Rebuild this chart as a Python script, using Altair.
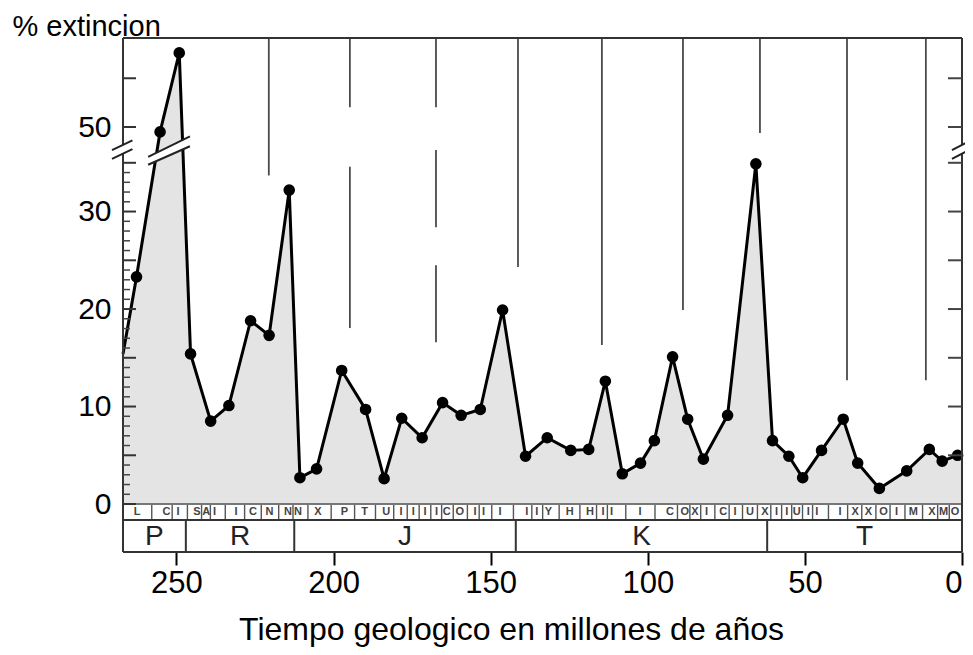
import altair as alt
import pandas as pd

# ---- data ----
ages = [267, 262.7, 255.2, 249.1, 245.5, 239.1, 233.3, 226.4, 220.5, 214.1, 210.7, 205.4,
        197.4, 189.8, 183.9, 178.3, 171.8, 165.3, 159.4, 153.3, 146.2, 138.9, 132.0, 124.5,
        118.8, 113.5, 108.1, 102.3, 97.9, 92.1, 87.3, 82.3, 74.6, 65.6, 60.3, 55.1, 50.7,
        44.7, 37.8, 33.2, 26.3, 17.6, 10.4, 6.3, 1.4, 0]
ext = [15.4, 23.3, 49.5, 57.6, 15.4, 8.5, 10.1, 18.8, 17.3, 32.2, 2.7, 3.6,
       13.7, 9.7, 2.6, 8.8, 6.8, 10.4, 9.1, 9.7, 19.9, 4.9, 6.8, 5.5,
       5.6, 12.6, 3.1, 4.2, 6.5, 15.1, 8.7, 4.6, 9.1, 34.9, 6.5, 4.9, 2.7,
       5.5, 8.7, 4.2, 1.6, 3.4, 5.6, 4.4, 5.0, 5.1]
has_dot = [0] + [1] * 44 + [0]

periods = ["P", "R", "J", "K", "T"]
period_bounds = [267, 247, 212.5, 142, 62, 0]

stage_pos = [262.5, 253.2, 249.5, 243.5, 240.5, 237.9, 231.0, 225.6, 220.4, 214.5, 211.3, 205.0,
             196.5, 190.1, 183.2, 178.5, 174.6, 170.9, 167.2, 164.0, 159.8, 155.0, 152.3, 147.0,
             138.5, 135.3, 131.6, 124.8, 118.4, 114.2, 111.5, 102.5, 92.9, 88.2, 85.0, 81.3,
             76.0, 72.2, 67.5, 62.7, 59.0, 55.8, 52.6, 48.9, 46.2, 38.8, 34.0, 29.8, 25.0,
             20.8, 15.5, 9.6, 5.9, 2.2]
stage_lab = ["L", "C", "I", "S", "A", "I", "I", "C", "N", "N", "N", "X",
             "P", "T", "U", "I", "I", "I", "I", "C", "O", "I", "I", "I",
             "I", "I", "Y", "H", "H", "I", "I", "I", "C", "O", "X", "I",
             "C", "I", "U", "X", "I", "I", "U", "I", "I", "I", "X", "X", "O",
             "I", "M", "X", "M", "O"]

# periodic vertical lines hanging from the top (age, top, bottom) in plotted units
hang_age = [220.6, 194.8, 194.8, 167.4, 167.4, 167.4, 141.3, 114.6, 88.8, 64.3, 36.6, 11.5]
hang_top = [47.8, 47.8, 34.6, 47.8, 36.3, 24.5, 47.8, 47.8, 47.8, 47.8, 47.8, 47.8]
hang_bot = [33.7, 40.7, 18.05, 40.7, 28.4, 16.6, 24.3, 16.3, 19.9, 38.05, 12.7, 12.7]

OFFSET = 11.33          # broken axis: values above the break are shifted down
YTOP, YBOT = 47.8, -4.92
STAGE_BOT = -1.64
XMAX, XMIN = 267, 0


def tr(v):
    return v - OFFSET if v > 36 else v


W, H = 839, 514
FONT = "Liberation Sans"

xs = alt.Scale(domain=[XMAX, XMIN], nice=False, zero=False)
ys = alt.Scale(domain=[YBOT, YTOP], nice=False, zero=False)

x_axis = alt.Axis(values=[250, 200, 150, 100, 50, 0], domain=False, tickSize=13,
                  tickColor="black", tickWidth=2, labelFontSize=31, labelPadding=3,
                  labelColor="black", grid=False,
                  labelAlign=alt.ConditionalAxisLabelAlign(
                      condition={"test": "datum.value == 0", "value": "right"}, value="center"),
                  title="Tiempo geologico en millones de años", titleFontSize=32,
                  titleFontWeight="normal", titleColor="black", titleX=388, titleY=87,
                  titleBaseline="alphabetic")
y_axis = alt.Axis(values=[0, 10, 20, 30, 50 - OFFSET], domain=False, ticks=False, grid=False,
                  labelExpr="datum.value > 36 ? '50' : datum.label",
                  labelFontSize=30, labelPadding=12, labelColor="black",
                  title="% extincion", titleAngle=0, titleAlign="left",
                  titleBaseline="alphabetic", titleX=-111, titleY=-3, titleFontSize=29,
                  titleFontWeight="normal", titleColor="black")


def X(f):
    return alt.X(f, scale=xs, axis=x_axis)


def Y(f):
    return alt.Y(f, scale=ys, axis=y_axis)


df = pd.DataFrame({"age": ages, "ext": ext, "yp": [tr(v) for v in ext],
                   "dot": has_dot, "i": list(range(len(ages)))})

area = alt.Chart(df).mark_area(color="#e4e4e4", interpolate="linear").encode(
    x=X("age:Q"), y=Y("yp:Q"), y2=alt.datum(0))
line = alt.Chart(df).mark_line(color="black", strokeWidth=3).encode(
    x=X("age:Q"), y=Y("yp:Q"), order="i:Q")
points = alt.Chart(df).transform_filter("datum.dot == 1").mark_circle(
    color="black", opacity=1, size=135).encode(x=X("age:Q"), y=Y("yp:Q"))

# hanging lines
hdf = pd.DataFrame({"age": hang_age, "yp": hang_top, "y2": hang_bot})
hang = alt.Chart(hdf).mark_rule(color="#4a4a4a", strokeWidth=1.8).encode(
    x=X("age:Q"), y=Y("yp:Q"), y2="y2:Q")

# stage band
mids = [(a + b) / 2 for a, b in zip(stage_pos[:-1], stage_pos[1:])]
sdiv = pd.DataFrame({"age": mids, "yp": [-0.1] * len(mids), "y2": [STAGE_BOT] * len(mids)})
stage_div = alt.Chart(sdiv).mark_rule(color="#555", strokeWidth=1.4).encode(
    x=X("age:Q"), y=Y("yp:Q"), y2="y2:Q")
stxt = pd.DataFrame({"age": stage_pos, "t": stage_lab, "yp": [STAGE_BOT / 2] * len(stage_pos)})
stage_text = alt.Chart(stxt).mark_text(fontSize=11, fontWeight="bold", color="#444", font=FONT,
                                        baseline="middle").encode(
    x=X("age:Q"), y=Y("yp:Q"), text="t:N")

# period band
pdiv = pd.DataFrame({"age": period_bounds[1:-1], "yp": [STAGE_BOT] * 4, "y2": [YBOT] * 4})
period_div = alt.Chart(pdiv).mark_rule(color="#333", strokeWidth=2).encode(
    x=X("age:Q"), y=Y("yp:Q"), y2="y2:Q")
ptxt = pd.DataFrame({"age": [(a + b) / 2 for a, b in zip(period_bounds[:-1], period_bounds[1:])],
                     "t": periods, "yp": [(STAGE_BOT + YBOT) / 2] * 5})
period_text = alt.Chart(ptxt).mark_text(fontSize=28, color="#222", font=FONT,
                                         baseline="middle", dy=1).encode(
    x=X("age:Q"), y=Y("yp:Q"), text="t:N")

# frame: horizontal and vertical lines
hl = pd.DataFrame({"age": [XMAX] * 4, "x2": [XMIN] * 4,
                   "yp": [YTOP, 0, STAGE_BOT, YBOT], "c": ["#333", "#777", "#333", "#333"]})
hlines = alt.Chart(hl).mark_rule(strokeWidth=2).encode(
    x=X("age:Q"), x2="x2:Q", y=Y("yp:Q"), color=alt.Color("c:N", scale=None))
vl = pd.DataFrame({"age": [XMAX, XMIN], "yp": [YTOP, YTOP], "y2": [YBOT, YBOT]})
vlines = alt.Chart(vl).mark_rule(color="#333", strokeWidth=2).encode(
    x=X("age:Q"), y=Y("yp:Q"), y2="y2:Q")

# axis ticks (inward)
lt_vals = [float(v) for v in range(0, 36)] + [50 - OFFSET, 55 - OFFSET]
lt_long = [1 if (v % 5 == 0 or v > 36) else 0 for v in lt_vals]
ldf = pd.DataFrame({"yp": lt_vals, "long": lt_long})
lt_long_c = alt.Chart(ldf).transform_filter("datum.long == 1").mark_rule(
    color="#333", strokeWidth=2).encode(x=alt.value(0), x2=alt.value(13), y=Y("yp:Q"))
lt_short_c = alt.Chart(ldf).transform_filter("datum.long == 0").mark_rule(
    color="#444", strokeWidth=1.5).encode(x=alt.value(0), x2=alt.value(7), y=Y("yp:Q"))
rt_vals = [5, 10, 15, 20, 25, 30, 35, 50 - OFFSET, 55 - OFFSET]
rdf = pd.DataFrame({"yp": rt_vals})
rt_c = alt.Chart(rdf).mark_rule(color="#444", strokeWidth=2).encode(
    x=alt.value(W), x2=alt.value(W - 14), y=Y("yp:Q"))

# axis breaks: white bands with slanted edges
brk = pd.DataFrame({
    "g": ["L", "L", "D", "D", "R", "R"],
    "age": [270.5, 264.0, 259.0, 245.7, 3.2, -2.8],
    "yp": [35.4, 36.4, 34.8, 36.7, 35.4, 36.4],
    "hi": [36.3, 37.3, 35.6, 37.7, 36.3, 37.3],
})
brk_band = alt.Chart(brk).mark_area(color="white", opacity=1, interpolate="linear").encode(
    x=X("age:Q"), y=Y("yp:Q"), y2="hi:Q", detail="g:N")
brk_lo = alt.Chart(brk).mark_line(color="#222", strokeWidth=2).encode(
    x=X("age:Q"), y=Y("yp:Q"), detail="g:N")
brk_hi = alt.Chart(brk).mark_line(color="#222", strokeWidth=2).encode(
    x=X("age:Q"), y=Y("hi:Q"), detail="g:N")

chart = alt.layer(
    area, hang, line, points, stage_div, stage_text, period_div, period_text,
    hlines, vlines, lt_long_c, lt_short_c, rt_c, brk_band, brk_lo, brk_hi,
).properties(
    width=W, height=H,
    autosize=alt.AutoSizeParams(type="none"),
    padding={"left": 115, "top": 30, "right": 3, "bottom": 95},
).configure_view(stroke=None).configure(font=FONT)

chart.save("out.html", embed_options={"renderer": "svg", "actions": False})
